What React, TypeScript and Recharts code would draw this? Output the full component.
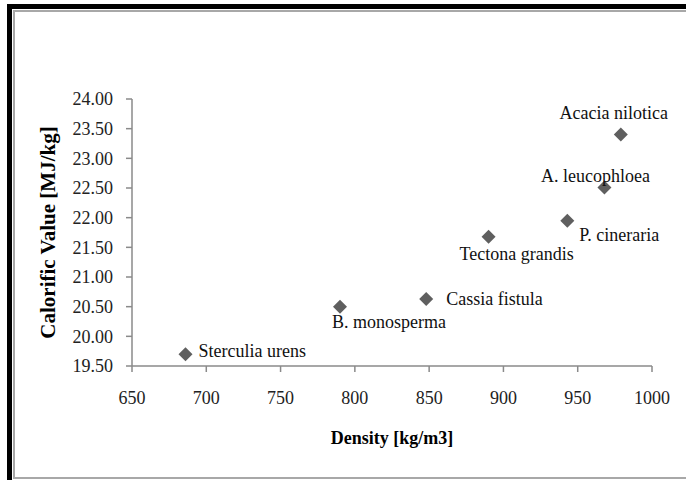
import React from "react";
import { ScatterChart, Scatter, XAxis, YAxis } from "recharts";

// values
const species = [
    "Sterculia urens",
    "B. monosperma",
    "Cassia fistula",
    "Tectona grandis",
    "P. cineraria",
    "A. leucophloea",
    "Acacia nilotica",
];
const density = [686, 790, 848, 890, 943, 968, 979];
const calorificValue = [19.7, 20.5, 20.63, 21.68, 21.95, 22.51, 23.4];

const densityTicks = [650, 700, 750, 800, 850, 900, 950, 1000];
const calorificTicks = [19.5, 20, 20.5, 21, 21.5, 22, 22.5, 23, 23.5, 24];

// where each name sits relative to its marker: [dx, dy, anchor]
const labelPlacement: [number, number, "start" | "middle"][] = [
    [13, -3, "start"],
    [-8, 15, "start"],
    [20, 0, "start"],
    [28, 17, "middle"],
    [12, 14, "start"],
    [-9, -11, "middle"],
    [-7, -22, "middle"],
];

const points = species.map((name, i) => ({
    name,
    density: density[i],
    cv: calorificValue[i],
}));

const serif = "'Liberation Serif', 'Times New Roman', serif";
const axisGrey = "#8a8a8a";

const DiamondPoint = (props: any) => {
    const { cx, cy, payload } = props;
    const i = species.indexOf(payload.name);
    const [dx, dy, anchor] = labelPlacement[i];
    const r = 7;
    return (
        <g>
            <path
                d={`M${cx},${cy - r}L${cx + r},${cy}L${cx},${cy + r}L${cx - r},${cy}Z`}
                fill="#5f5f5f"
            />
            <text
                x={cx + dx}
                y={cy + dy}
                textAnchor={anchor}
                dominantBaseline="central"
                fontFamily={serif}
                fontSize={18}
                fill="#111"
            >
                {payload.name}
            </text>
        </g>
    );
};

const YTitle = (props: any) => {
    const { viewBox } = props;
    const x = viewBox.x + 48;
    const y = viewBox.y + viewBox.height / 2;
    return (
        <text
            x={x}
            y={y}
            transform={`rotate(-90, ${x}, ${y})`}
            textAnchor="middle"
            dominantBaseline="central"
            fontFamily={serif}
            fontWeight="bold"
            fontSize={21}
            fill="#000"
        >
            Calorific Value [MJ/kg]
        </text>
    );
};

const XTitle = (props: any) => {
    const { viewBox } = props;
    return (
        <text
            x={viewBox.x + viewBox.width / 2}
            y={viewBox.y + 72}
            textAnchor="middle"
            dominantBaseline="central"
            fontFamily={serif}
            fontWeight="bold"
            fontSize={18}
            fill="#000"
        >
            Density [kg/m3]
        </text>
    );
};

const App: React.FC = () => {
    return (
        <div
            style={{
                position: "absolute",
                left: 0,
                top: 0,
                width: 686,
                height: 480,
                overflow: "hidden",
                background: "#fff",
            }}
        >
            {/* frame round the picture */}
            <div
                style={{
                    position: "absolute",
                    left: 7,
                    top: 4,
                    width: 760,
                    height: 560,
                    borderLeft: "5px solid #000",
                    borderTop: "5px solid #000",
                }}
            />
            <div
                style={{
                    position: "absolute",
                    left: 13,
                    top: 10,
                    width: 760,
                    height: 465,
                    borderLeft: "2px solid #a8a8a8",
                    borderTop: "2px solid #a8a8a8",
                    borderBottom: "2px solid #a8a8a8",
                }}
            />

            <ScatterChart
                width={686}
                height={480}
                margin={{ top: 99, right: 34, left: 0, bottom: 0 }}
                style={{ position: "absolute", left: 0, top: 0 }}
            >
                <XAxis
                    type="number"
                    dataKey="density"
                    domain={[650, 1000]}
                    ticks={densityTicks}
                    height={114}
                    tickSize={6}
                    tickMargin={19}
                    axisLine={{ stroke: axisGrey, strokeWidth: 1.5 }}
                    tickLine={{ stroke: axisGrey, strokeWidth: 1.5 }}
                    tick={{ fill: "#222", fontSize: 18, fontFamily: serif }}
                    label={{ content: XTitle }}
                />
                <YAxis
                    type="number"
                    dataKey="cv"
                    domain={[19.5, 24]}
                    ticks={calorificTicks}
                    width={132}
                    tickSize={6}
                    tickMargin={13}
                    tickFormatter={(v: number) => v.toFixed(2)}
                    axisLine={{ stroke: axisGrey, strokeWidth: 1.5 }}
                    tickLine={{ stroke: axisGrey, strokeWidth: 1.5 }}
                    tick={{ fill: "#222", fontSize: 18, fontFamily: serif }}
                    label={{ content: YTitle }}
                />
                <Scatter
                    data={points}
                    shape={DiamondPoint}
                    isAnimationActive={false}
                />
            </ScatterChart>
        </div>
    );
};

export default App;
